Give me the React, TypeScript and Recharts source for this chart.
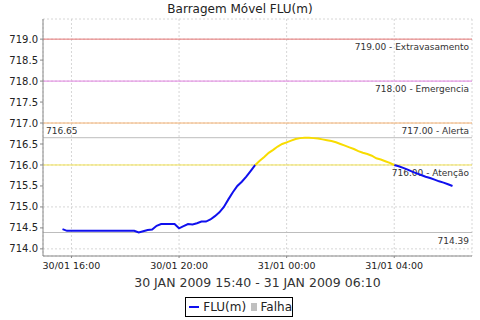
import React from "react";
import {
    LineChart,
    Line,
    XAxis,
    YAxis,
    CartesianGrid,
    ReferenceLine,
} from "recharts";

// nível FLU(m) a cada 10 min, de 30/01 15:40 até 31/01 06:10
const startMinute = 15 * 60 + 40;
const stepMinutes = 10;
const levels = [
    714.47, 714.43, 714.43, 714.43, 714.43, 714.43, 714.43, 714.43, 714.43, 714.43,
    714.43, 714.43, 714.43, 714.43, 714.43, 714.43, 714.43, 714.39, 714.42, 714.45,
    714.46, 714.55, 714.59, 714.59, 714.59, 714.59, 714.49, 714.54, 714.59, 714.58,
    714.61, 714.65, 714.65, 714.7, 714.78, 714.87, 715.0, 715.18, 715.35, 715.5,
    715.6, 715.72, 715.86, 716.0, 716.1, 716.19, 716.29, 716.36, 716.44, 716.5,
    716.54, 716.58, 716.62, 716.64, 716.65, 716.65, 716.64, 716.63, 716.61, 716.59,
    716.57, 716.54, 716.5, 716.46, 716.42, 716.38, 716.33, 716.29, 716.26, 716.22,
    716.16, 716.13, 716.09, 716.05, 716.0, 715.97, 715.93, 715.89, 715.84, 715.8,
    715.76, 715.72, 715.69, 715.65, 715.61, 715.58, 715.54, 715.5,
];

// limites de alerta
const thresholds = [
    { value: 719, label: "719.00 - Extravasamento", color: "#e57373" },
    { value: 718, label: "718.00 - Emergencia", color: "#e080e0" },
    { value: 717, label: "717.00 - Alerta", color: "#f4b070" },
    { value: 716, label: "716.00 - Atenção", color: "#f0e050" },
];
const attentionLevel = 716;

const xTicks = [960, 1200, 1440, 1680];
const yTicks = [714, 714.5, 715, 715.5, 716, 716.5, 717, 717.5, 718, 718.5, 719];

const FONT = "'DejaVu Sans', sans-serif";

const span = (levels.length - 1) * stepMinutes;
const xDomain = [startMinute - span * 0.05, startMinute + span * 1.05];

const chartData = levels.map((v, i) => ({
    t: startMinute + i * stepMinutes,
    normal: v <= attentionLevel ? v : null,
    alto: v >= attentionLevel ? v : null,
}));

const maxLevel = Math.max(...levels);
const minLevel = Math.min(...levels);

const fmtTime = (m: number) => {
    const day = m >= 1440 ? "31/01" : "30/01";
    const mm = m % 1440;
    const h = String(Math.floor(mm / 60)).padStart(2, "0");
    const min = String(mm % 60).padStart(2, "0");
    return `${day} ${h}:${min}`;
};

const makeLabel = (text: string, where: "topRight" | "topLeft" | "bottomLeft" | "bottomRight") =>
    (props: any) => {
        const vb = props.viewBox;
        if (!vb) return null;
        const right = where.endsWith("Right");
        const below = where.startsWith("top");
        const x = right ? vb.x + vb.width - 3 : vb.x + 3;
        const y = below ? vb.y + 11 : vb.y - 4;
        return (
            <text
                x={x}
                y={y}
                textAnchor={right ? "end" : "start"}
                fontSize={9}
                fontFamily={FONT}
                fill="#333"
            >
                {text}
            </text>
        );
    };

export default function App() {
    return (
        <div style={{ position: "absolute", left: 0, top: 0, width: 480, height: 320, background: "#fff", fontFamily: FONT }}>
            <div style={{ position: "absolute", top: 2, width: 480, textAlign: "center", fontSize: 12, color: "#222" }}>
                Barragem Móvel FLU(m)
            </div>

            <LineChart width={480} height={320} data={chartData} margin={{ top: 19, right: 8, left: 0, bottom: 0 }}>
                <CartesianGrid stroke="#d6d6d6" strokeDasharray="2 2" />

                <XAxis
                    dataKey="t"
                    type="number"
                    domain={xDomain}
                    ticks={xTicks}
                    tickFormatter={fmtTime}
                    height={64}
                    tickSize={2}
                    tickMargin={4}
                    stroke="#888"
                    tick={{ fill: "#222", fontSize: 9.5, fontFamily: FONT }}
                    allowDataOverflow
                />
                <XAxis
                    xAxisId="top"
                    orientation="top"
                    type="number"
                    domain={xDomain}
                    height={0}
                    tick={false}
                    tickLine={false}
                    stroke="#aaa"
                />
                <YAxis
                    type="number"
                    domain={[713.83, 719.48]}
                    ticks={yTicks}
                    tickFormatter={(v: number) => v.toFixed(1)}
                    width={43}
                    tickSize={3}
                    tickMargin={2}
                    stroke="#888"
                    tick={{ fill: "#222", fontSize: 10, fontFamily: FONT }}
                    allowDataOverflow
                />
                <YAxis
                    yAxisId="right"
                    orientation="right"
                    width={0}
                    tick={false}
                    tickLine={false}
                    stroke="#aaa"
                />

                {thresholds.map((th) => (
                    <ReferenceLine
                        key={th.value}
                        y={th.value}
                        stroke={th.color}
                        strokeWidth={1}
                        label={makeLabel(th.label, "topRight")}
                    />
                ))}
                <ReferenceLine y={maxLevel} stroke="#bdbdbd" label={makeLabel(maxLevel.toFixed(2), "bottomLeft")} />
                <ReferenceLine y={minLevel} stroke="#bdbdbd" label={makeLabel(minLevel.toFixed(2), "topRight")} />

                <Line
                    dataKey="normal"
                    stroke="#1010ee"
                    strokeWidth={2}
                    dot={false}
                    type="linear"
                    isAnimationActive={false}
                />
                <Line
                    dataKey="alto"
                    stroke="#f8dc00"
                    strokeWidth={2}
                    dot={false}
                    type="linear"
                    isAnimationActive={false}
                />
            </LineChart>

            <div style={{ position: "absolute", left: 43, top: 275, width: 429, textAlign: "center", fontSize: 12.5, color: "#333" }}>
                30 JAN 2009 15:40 - 31 JAN 2009 06:10
            </div>

            <div
                style={{
                    position: "absolute",
                    left: 185,
                    top: 297,
                    width: 106,
                    height: 18,
                    border: "1px solid #000",
                    display: "flex",
                    alignItems: "center",
                    fontSize: 12,
                    color: "#222",
                }}
            >
                <span style={{ display: "inline-block", width: 15, height: 2, background: "#1010ee", margin: "0 4px 0 3px" }} />
                <span>FLU(m)</span>
                <span style={{ display: "inline-block", width: 8, height: 8, background: "#c0c0c0", margin: "0 4px 0 5px" }} />
                <span>Falha</span>
            </div>
        </div>
    );
}
